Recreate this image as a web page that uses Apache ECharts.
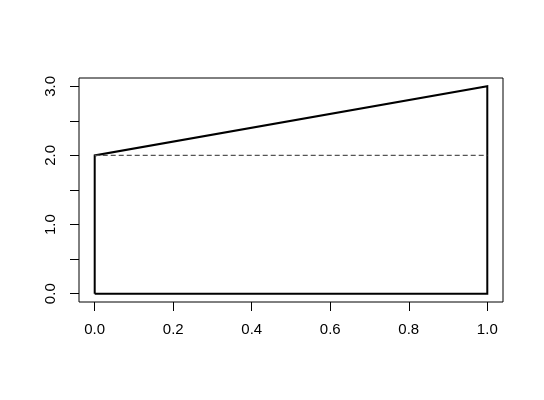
<!DOCTYPE html>
<html>
<head>
<meta charset="utf-8">
<script src="https://cdn.jsdelivr.net/npm/echarts@6/dist/echarts.min.js"></script>
<style>html,body{margin:0;padding:0;background:#fff}#c{width:544px;height:400px}</style>
</head>
<body>
<div id="c"></div>
<script>
var polyX = [0, 0, 1, 1, 0];
var polyY = [0, 2, 3, 0, 0];
var refX = [0, 1];
var refY = [2, 2];
var xTicks = [0, 0.2, 0.4, 0.6, 0.8, 1.0];
var yTicks = [0, 0.5, 1, 1.5, 2, 2.5, 3];
var yLabels = [0, 1, 2, 3];

var chart = echarts.init(document.getElementById('c'), null, {renderer: 'canvas'});
var font = '"Liberation Sans", Arial, sans-serif';
chart.setOption({
  animation: false,
  backgroundColor: '#fff',
  grid: {left: 79, right: 41, top: 78, bottom: 98, show: true, borderColor: '#000', borderWidth: 1, backgroundColor: 'transparent'},
  xAxis: {
    type: 'value', min: -0.04, max: 1.04,
    splitLine: {show: false},
    axisLine: {show: false, onZero: false},
    axisTick: {show: true, inside: false, length: 9, customValues: xTicks, lineStyle: {color: '#000', width: 1}},
    axisLabel: {customValues: xTicks, margin: 20, color: '#000', fontFamily: font, fontSize: 15,
      formatter: function (v) { return v.toFixed(1); }}
  },
  yAxis: {
    type: 'value', min: -0.12, max: 3.12,
    splitLine: {show: false},
    axisLine: {show: false, onZero: false},
    axisTick: {show: true, inside: false, length: 9, customValues: yTicks, lineStyle: {color: '#000', width: 1}},
    axisLabel: {customValues: yLabels, rotate: 90, margin: 21, color: '#000', fontFamily: font, fontSize: 15,
      formatter: function (v) { return v.toFixed(1); }}
  },
  series: [
    {type: 'line', data: polyX.map(function (x, i) { return [x, polyY[i]]; }), symbol: 'none',
      lineStyle: {color: '#000', width: 2, join: 'miter'}},
    {type: 'line', data: refX.map(function (x, i) { return [x, refY[i]]; }), symbol: 'none',
      lineStyle: {color: '#555', width: 1.3, type: [5, 3]}}
  ]
});
</script>
</body>
</html>
